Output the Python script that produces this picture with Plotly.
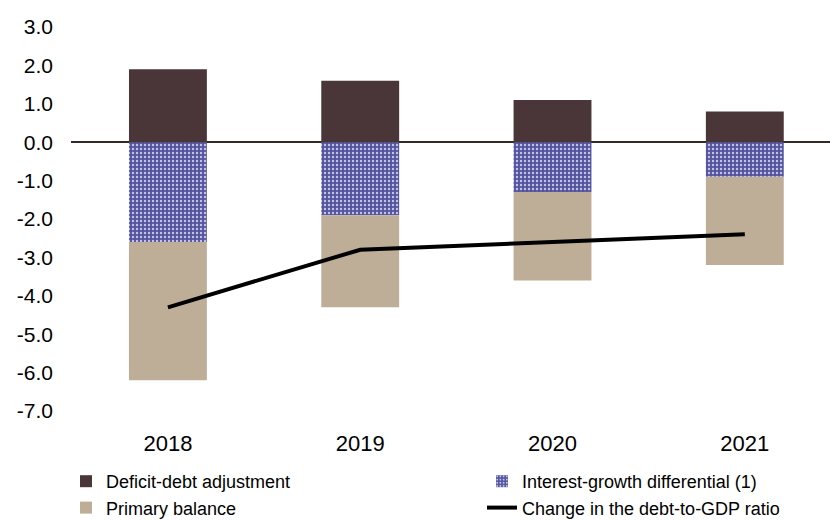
import plotly.graph_objects as go

# Contributions to the change in the debt-to-GDP ratio (pp of GDP)
years = ["2018", "2019", "2020", "2021"]
deficit_debt = [1.9, 1.6, 1.1, 0.8]
interest_growth = [-2.6, -1.9, -1.3, -0.9]
primary_balance = [-3.6, -2.4, -2.3, -2.3]
debt_change = [-4.3, -2.8, -2.6, -2.4]

y_ticks = [3, 2, 1, 0, -1, -2, -3, -4, -5, -6, -7]
y_tick_labels = [f"{v:.1f}" for v in y_ticks]

FONT = "Arial, Liberation Sans, sans-serif"

fig = go.Figure()

fig.add_trace(go.Bar(
    x=years, y=deficit_debt, name="Deficit-debt adjustment",
    marker=dict(color="#4A3539", line=dict(width=0)),
    legend="legend",
))
fig.add_trace(go.Bar(
    x=years, y=interest_growth, name="Interest-growth differential (1)",
    marker=dict(
        color="#5454A0", line=dict(width=0),
        pattern=dict(shape=".", fgcolor="#C4C4E2", bgcolor="#5454A0",
                     size=4, solidity=0.28, fillmode="replace"),
    ),
    legend="legend2",
))
fig.add_trace(go.Bar(
    x=years, y=primary_balance, name="Primary balance",
    marker=dict(color="#BFAE97", line=dict(width=0)),
    legend="legend",
))
fig.add_trace(go.Scatter(
    x=years, y=debt_change, name="Change in the debt-to-GDP ratio",
    mode="lines", line=dict(color="#000000", width=4),
    legend="legend2",
))

legend_common = dict(
    orientation="v", xref="container", yref="container",
    y=1 - 463 / 520, xanchor="left", yanchor="top",
    font=dict(family=FONT, size=18, color="#000000"),
    itemclick=False, tracegroupgap=0, traceorder="normal",
    bgcolor="rgba(0,0,0,0)",
)

fig.update_layout(
    width=830, height=520,
    margin=dict(l=71, r=0, t=27, b=109, autoexpand=False),
    paper_bgcolor="white", plot_bgcolor="white",
    barmode="relative", bargap=0.595,
    font=dict(family=FONT, color="#000000", size=18),
    showlegend=True,
    legend=dict(x=66 / 830, **legend_common),
    legend2=dict(x=482 / 830, **legend_common),
    xaxis=dict(
        type="category", range=[-0.504, 3.443],
        showgrid=False, showline=False, zeroline=False, ticks="",
        tickangle=0, automargin=False,
        tickfont=dict(family=FONT, size=22),
        ticklabelstandoff=17,
    ),
    yaxis=dict(
        range=[-7, 3], tickvals=y_ticks, ticktext=y_tick_labels,
        showgrid=False, showline=False, automargin=False,
        zeroline=True, zerolinecolor="#332A26", zerolinewidth=2,
        ticks="", tickfont=dict(family=FONT, size=21),
        ticklabelstandoff=17,
    ),
)

fig.write_html("out.html")
